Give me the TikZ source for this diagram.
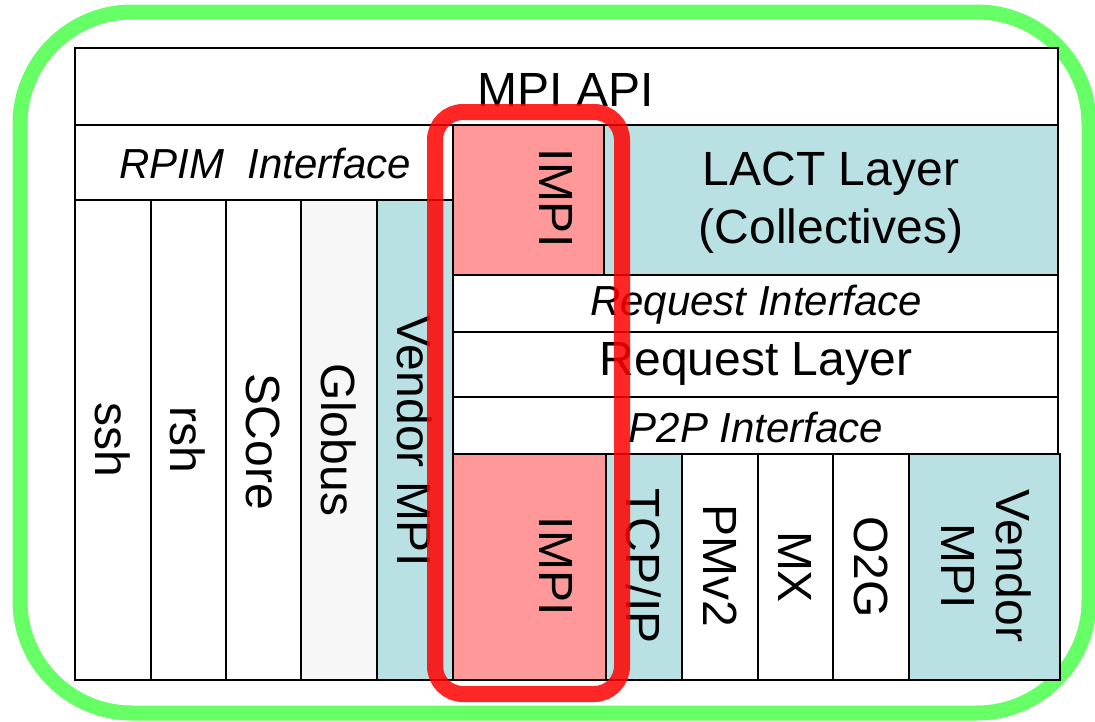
\documentclass[tikz,border=0pt]{standalone}
\usepackage{fontspec}
\setmainfont{Liberation Sans}
\definecolor{layerblue}{HTML}{B9E0E3}
\definecolor{impired}{HTML}{FF9999}
\definecolor{globusgray}{HTML}{F7F7F7}
\definecolor{framegreen}{HTML}{66FF66}
\begin{document}
\begin{tikzpicture}[x=1pt,y=-1pt,
    cell/.style={draw=black, line width=1.6pt},
    lbl/.style={font=\fontsize{48}{55}\selectfont, inner sep=0pt, align=center},
    itf/.style={font=\fontsize{42}{46}\selectfont\itshape, inner sep=0pt},
    vlbl/.style={lbl, rotate=-90}]
    \useasboundingbox (0,0) rectangle (1095,721);
    \draw[framegreen, line width=15pt, rounded corners=112pt] (20,12) rectangle (1089,713);
    % upper layers
    \draw[cell, fill=white] (75,48) rectangle (1058,125);
    \node[lbl] (mpiapi) at (566,90) {MPI API};
    \draw[cell, fill=white] (75,125) rectangle (453,200);
    \node[itf] (rpim) at (265,163) {RPIM\ \ Interface};
    \draw[cell, fill=impired] (453,125) rectangle (604,275);
    \node[vlbl] (impitop) at (556,198) {IMPI};
    \draw[cell, fill=layerblue] (604,125) rectangle (1058,275);
    \node[lbl, font=\fontsize{48}{58}\selectfont] (lact) at (831,203) {LACT Layer\\(Collectives)};
    \draw[cell, fill=white] (453,275) rectangle (1058,332);
    \node[itf] (reqif) at (756,305) {Request Interface};
    \draw[cell, fill=white] (453,332) rectangle (1058,397);
    \node[lbl] (reqlayer) at (756,364) {Request Layer};
    \draw[cell, fill=white] (453,397) rectangle (1058,454);
    \node[itf] (p2pif) at (756,427) {P2P Interface};
    % left columns
    \draw[cell, fill=white] (75,200) rectangle (151,680);
    \node[vlbl] (ssh) at (113,440) {ssh};
    \draw[cell, fill=white] (151,200) rectangle (226,680);
    \node[vlbl] (rsh) at (188,440) {rsh};
    \draw[cell, fill=white] (226,200) rectangle (301,680);
    \node[vlbl] (score) at (263,442) {SCore};
    \draw[cell, fill=globusgray] (301,200) rectangle (377,680);
    \node[vlbl] (globus) at (339,440) {Globus};
    \draw[cell, fill=layerblue] (377,200) rectangle (453,680);
    \node[vlbl] (vendorleft) at (415,441) {Vendor MPI};
    % devices
    \draw[cell, fill=impired] (453,454) rectangle (606,680);
    \node[vlbl] (impibottom) at (556,566) {IMPI};
    \draw[cell, fill=layerblue] (606,454) rectangle (682,680);
    \node[vlbl] (tcpip) at (644,566) {TCP/IP};
    \draw[cell, fill=white] (682,454) rectangle (758,680);
    \node[vlbl] (pmv2) at (720,566) {PMv2};
    \draw[cell, fill=white] (758,454) rectangle (833,680);
    \node[vlbl] (mx) at (795,567) {MX};
    \draw[cell, fill=white] (833,454) rectangle (909,680);
    \node[vlbl] (otwog) at (871,567) {O2G};
    \draw[cell, fill=layerblue] (909,454) rectangle (1060,680);
    \node[vlbl] (vendorright) at (986,566) {Vendor\\MPI};
    % highlight
    \draw[red, line width=16pt, rounded corners=28pt, draw opacity=0.85] (435,112) rectangle (622,694);
\end{tikzpicture}
\end{document}
